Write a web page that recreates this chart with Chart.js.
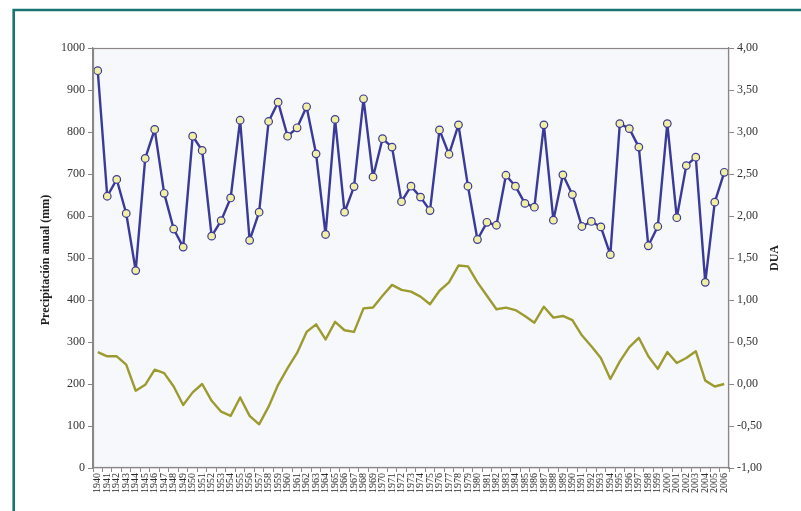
<!DOCTYPE html>
<html>
<head>
<meta charset="utf-8">
<script src="https://cdn.jsdelivr.net/npm/chart.js@4/dist/chart.umd.min.js"></script>
<style>
  html, body { margin: 0; padding: 0; background: #ffffff; }
  #wrap { width: 801px; height: 511px; }
</style>
</head>
<body>
<div id="wrap"><canvas id="c" width="801" height="511"></canvas></div>
<script>
// Years of record
const years = [
  '1940','1941','1942','1943','1944','1945','1946','1947','1948','1949',
  '1950','1951','1952','1953','1954','1955','1956','1957','1958','1959',
  '1960','1961','1962','1963','1964','1965','1966','1967','1968','1969',
  '1970','1971','1972','1973','1974','1975','1976','1977','1978','1979',
  '1980','1981','1982','1983','1984','1985','1986','1987','1988','1989',
  '1990','1991','1992','1993','1994','1995','1996','1997','1998','1999',
  '2000','2001','2002','2003','2004','2005','2006'
];

// Annual precipitation (mm)
const precipitacion = [
  946, 647, 687, 606, 470, 737, 806, 654, 569, 526,
  790, 756, 552, 589, 643, 828, 542, 609, 825, 871,
  790, 810, 860, 748, 556, 830, 609, 670, 879, 693,
  784, 764, 634, 671, 645, 613, 805, 747, 817, 671,
  544, 585, 578, 697, 671, 630, 621, 817, 590, 698,
  651, 575, 587, 574, 508, 820, 808, 764, 529, 575,
  820, 596, 720, 740, 442, 633, 704
];

// DUA series (right axis)
const dua = [
  0.38, 0.33, 0.33, 0.23, -0.08, -0.01, 0.17, 0.13, -0.03, -0.25,
  -0.10, 0.00, -0.20, -0.33, -0.38, -0.16, -0.38, -0.48, -0.27, -0.01,
  0.19, 0.37, 0.62, 0.71, 0.53, 0.74, 0.64, 0.62, 0.90, 0.91,
  1.05, 1.18, 1.12, 1.10, 1.04, 0.95, 1.11, 1.21, 1.41, 1.40,
  1.21, 1.05, 0.89, 0.91, 0.88, 0.81, 0.73, 0.92, 0.79, 0.81,
  0.76, 0.58, 0.45, 0.31, 0.06, 0.27, 0.44, 0.55, 0.33, 0.18,
  0.38, 0.25, 0.31, 0.39, 0.04, -0.03, 0.00
];

const leftTitle = 'Precipitación anual (mm)';
const rightTitle = 'DUA';

const SERIF = '"Liberation Serif", "Times New Roman", serif';
const FRAME = '#8c8686';

// Page frame, plot background, plot box and rotated axis titles
const decor = {
  id: 'decor',
  beforeDraw(chart) {
    const { ctx, chartArea: a } = chart;
    ctx.save();
    ctx.fillStyle = '#ffffff';
    ctx.fillRect(0, 0, chart.width, chart.height);
    ctx.fillStyle = '#f6f8fc';
    ctx.fillRect(a.left, a.top, a.right - a.left, a.bottom - a.top);
    ctx.restore();
  },
  afterDraw(chart) {
    const { ctx, chartArea: a } = chart;
    ctx.save();
    // plot box
    ctx.strokeStyle = FRAME;
    ctx.lineWidth = 1.2;
    ctx.strokeRect(a.left + 0.5, a.top + 0.5, a.right - a.left - 1, a.bottom - a.top - 1);
    // teal page frame
    ctx.strokeStyle = '#187573';
    ctx.lineWidth = 2.6;
    ctx.beginPath();
    ctx.moveTo(13.7, chart.height);
    ctx.lineTo(13.7, 10);
    ctx.lineTo(chart.width, 10);
    ctx.stroke();
    // axis titles
    ctx.fillStyle = '#222';
    ctx.font = 'bold 12px ' + SERIF;
    ctx.textAlign = 'center';
    ctx.textBaseline = 'middle';
    ctx.translate(46, 260);
    ctx.rotate(-Math.PI / 2);
    ctx.fillText(leftTitle, 0, 0);
    ctx.restore();
    ctx.save();
    ctx.fillStyle = '#222';
    ctx.font = 'bold 12px ' + SERIF;
    ctx.textAlign = 'center';
    ctx.textBaseline = 'middle';
    ctx.translate(775, 258);
    ctx.rotate(-Math.PI / 2);
    ctx.fillText(rightTitle, 0, 0);
    ctx.restore();
  }
};

new Chart(document.getElementById('c'), {
  type: 'line',
  data: {
    labels: years,
    datasets: [
      {
        label: leftTitle,
        data: precipitacion,
        yAxisID: 'y',
        borderColor: '#3b3a99',
        borderWidth: 2.4,
        borderJoinStyle: 'round',
        tension: 0,
        pointRadius: 3.8,
        pointBorderWidth: 1.2,
        pointBackgroundColor: '#f1efa3',
        pointBorderColor: '#3b3a99'
      },
      {
        label: rightTitle,
        data: dua,
        yAxisID: 'y1',
        borderColor: '#9d9b30',
        borderWidth: 2.4,
        borderJoinStyle: 'round',
        tension: 0,
        pointRadius: 0
      }
    ]
  },
  options: {
    responsive: false,
    animation: false,
    devicePixelRatio: 1,
    layout: { padding: { top: 48, left: 0, right: 0, bottom: 0 } },
    plugins: { legend: { display: false }, tooltip: { enabled: false } },
    scales: {
      x: {
        type: 'category',
        offset: true,
        afterFit(s) { s.height = 43; },
        grid: { display: true, drawOnChartArea: false, drawTicks: true, tickLength: 4, color: FRAME, offset: true },
        border: { display: true, color: FRAME, width: 1.2 },
        ticks: {
          autoSkip: false, minRotation: 90, maxRotation: 90, padding: 1,
          color: '#2a2a2a', font: { family: SERIF, size: 10 }
        }
      },
      y: {
        position: 'left',
        min: 0, max: 1000,
        afterFit(s) { s.width = 93; },
        grid: { display: true, drawOnChartArea: false, drawTicks: true, tickLength: 5, color: FRAME },
        border: { display: true, color: FRAME, width: 1.2 },
        ticks: {
          stepSize: 100, padding: 3, color: '#333', font: { family: SERIF, size: 12 },
          callback: (v) => String(v)
        }
      },
      y1: {
        position: 'right',
        min: -1, max: 4,
        afterFit(s) { s.width = 72; },
        grid: { display: true, drawOnChartArea: false, drawTicks: true, tickLength: 5, color: FRAME },
        border: { display: true, color: FRAME, width: 1.2 },
        ticks: {
          stepSize: 0.5, padding: 3, color: '#333', font: { family: SERIF, size: 12 },
          callback: (v) => Number(v).toFixed(2).replace('.', ',')
        }
      }
    }
  },
  plugins: [decor]
});
</script>
</body>
</html>
